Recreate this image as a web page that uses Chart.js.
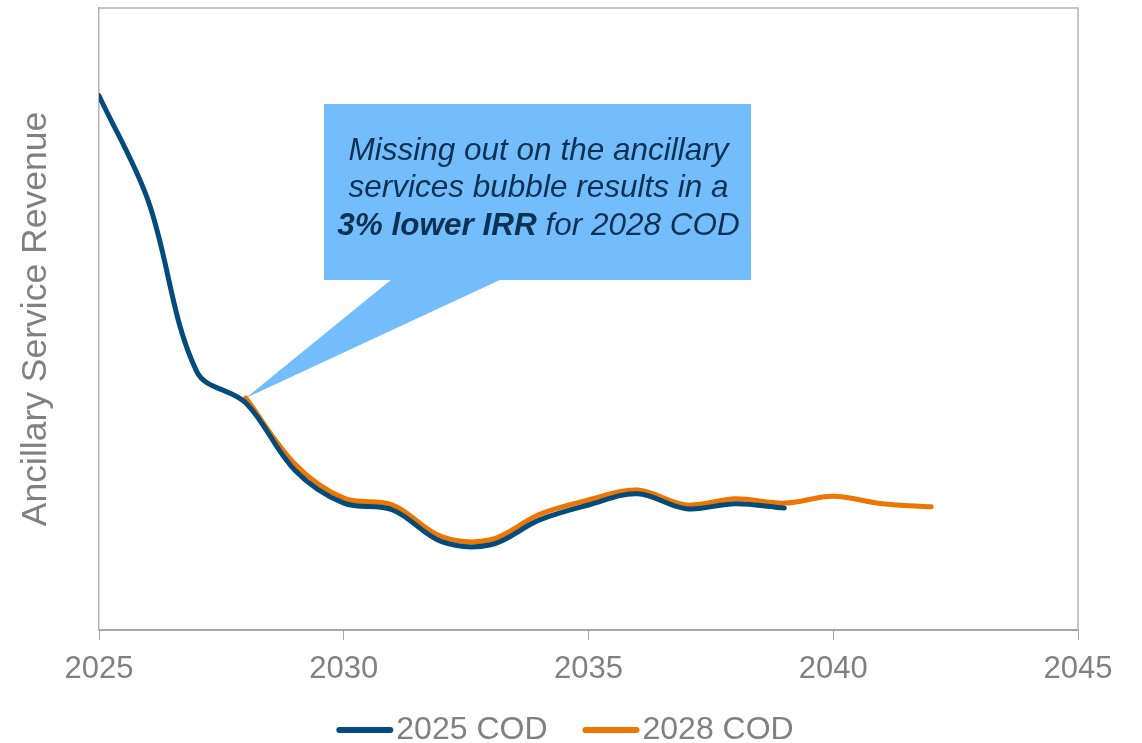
<!DOCTYPE html>
<html>
<head>
<meta charset="utf-8">
<script src="https://cdn.jsdelivr.net/npm/chart.js@4.4.1/dist/chart.umd.min.js"></script>
<style>
  html, body { margin: 0; padding: 0; background: #fff; }
  #wrap { width: 1142px; height: 743px; }
</style>
</head>
<body>
<div id="wrap"><canvas id="chartRevenue" width="1142" height="743"></canvas></div>
<script>
// years and revenue (relative, axis has no labels)
const years2025 = [2025, 2026, 2027, 2028, 2029, 2030, 2031, 2032, 2033, 2034, 2035, 2036, 2037, 2038, 2039]
const cod2025 = [85.9, 69.1, 41.5, 36.5, 25.7, 20.4, 19.3, 14.2, 13.7, 17.7, 20.1, 21.9, 19.5, 20.3, 19.6]
const years2028 = [2028, 2029, 2030, 2031, 2032, 2033, 2034, 2035, 2036, 2037, 2038, 2039, 2040, 2041, 2042]
const cod2028 = [37.3, 26.7, 21.2, 20.1, 15.0, 14.5, 18.6, 20.9, 22.5, 20.1, 21.1, 20.4, 21.5, 20.3, 19.8]
const seriesLabels = ['2025 COD', '2028 COD']
const xTicks = [2025, 2030, 2035, 2040, 2045]

const FONT = '"Liberation Sans", Arial, sans-serif'
const GRAY = '#808080'
const AXIS = '#a6a6a6'
const BLUE = '#034b7b'
const ORANGE = '#ee7600'

const toPoints = (xs, ys) => xs.map((x, i) => ({ x, y: ys[i] }))

// top/right frame, callout bubble, legend
const extras = {
  id: 'extras',
  afterDatasetsDraw(chart) {
    const { ctx, chartArea: a, scales } = chart
    ctx.save()
    ctx.strokeStyle = '#b4b4b4'
    ctx.lineWidth = 1.5
    ctx.beginPath()
    ctx.moveTo(a.left, a.top)
    ctx.lineTo(a.right, a.top)
    ctx.lineTo(a.right, a.bottom)
    ctx.stroke()

    // callout
    const tipX = scales.x.getPixelForValue(years2028[0])
    const tipY = scales.y.getPixelForValue(cod2028[0])
    const bx = 324, by = 104, bw = 427, bh = 176
    ctx.fillStyle = '#74bdfc'
    ctx.beginPath()
    ctx.moveTo(392, by + bh - 1)
    ctx.lineTo(tipX, tipY)
    ctx.lineTo(502, by + bh - 1)
    ctx.closePath()
    ctx.fill()
    ctx.fillRect(bx, by, bw, bh)

    const cx = bx + bw / 2 + 1
    const fs = 31.5
    ctx.fillStyle = '#0b3253'
    ctx.textBaseline = 'alphabetic'
    ctx.textAlign = 'center'
    ctx.font = `italic ${fs}px ${FONT}`
    ctx.fillText('Missing out on the ancillary', cx, 160)
    ctx.fillText('services bubble results in a', cx, 197)
    const boldPart = '3% lower IRR'
    const restPart = ' for 2028 COD'
    ctx.font = `italic bold ${fs}px ${FONT}`
    const w1 = ctx.measureText(boldPart).width
    ctx.font = `italic ${fs}px ${FONT}`
    const w2 = ctx.measureText(restPart).width
    const x0 = cx - (w1 + w2) / 2
    ctx.textAlign = 'left'
    ctx.font = `italic bold ${fs}px ${FONT}`
    ctx.fillText(boldPart, x0, 235)
    ctx.font = `italic ${fs}px ${FONT}`
    ctx.fillText(restPart, x0 + w1, 235)

    // legend
    ctx.font = '32px ' + FONT
    ctx.textBaseline = 'middle'
    const ly = 730
    const lineW = 57, gap = 3, itemGap = 35
    const items = chart.data.datasets.map(d => ({
      text: d.label, color: d.borderColor, w: ctx.measureText(d.label).width,
    }))
    const total = items.reduce((s, it) => s + lineW + gap + it.w, 0) + itemGap * (items.length - 1)
    let lx = (chart.width - total) / 2 - 6
    items.forEach(it => {
      ctx.strokeStyle = it.color
      ctx.lineWidth = 6
      ctx.lineCap = 'round'
      ctx.beginPath()
      ctx.moveTo(lx + 3, ly)
      ctx.lineTo(lx + lineW - 3, ly)
      ctx.stroke()
      ctx.fillStyle = GRAY
      ctx.fillText(it.text, lx + lineW + gap, ly)
      lx += lineW + gap + it.w + itemGap
    })
    ctx.restore()
  },
}

const ctx = document.getElementById('chartRevenue').getContext('2d')
new Chart(ctx, {
  type: 'line',
  data: {
    datasets: [
      {
        label: seriesLabels[0],
        data: toPoints(years2025, cod2025),
        borderColor: BLUE,
        borderWidth: 5,
      },
      {
        label: seriesLabels[1],
        data: toPoints(years2028, cod2028),
        borderColor: ORANGE,
        borderWidth: 5,
      },
    ],
  },
  options: {
    responsive: false,
    animation: false,
    layout: { padding: { left: 0, top: 8, right: 64, bottom: 53 } },
    elements: {
      line: { tension: 0.35, borderCapStyle: 'round', borderJoinStyle: 'round', fill: false },
      point: { radius: 0, hoverRadius: 0 },
    },
    plugins: {
      legend: { display: false },
      tooltip: { enabled: false },
    },
    scales: {
      x: {
        type: 'linear',
        min: 2025,
        max: 2045,
        afterBuildTicks: axis => { axis.ticks = xTicks.map(v => ({ value: v })) },
        afterFit: axis => { axis.height = 60 },
        ticks: {
          color: GRAY,
          font: { family: FONT, size: 31 },
          padding: 11,
          maxRotation: 0,
          callback: v => String(v),
        },
        grid: { display: true, drawOnChartArea: false, drawTicks: true, tickLength: 10, color: AXIS },
        border: { display: true, color: AXIS, width: 2 },
      },
      y: {
        min: 0,
        max: 100,
        afterFit: axis => { axis.width = 99 },
        ticks: { display: false },
        grid: { display: false },
        border: { display: true, color: '#b4b4b4', width: 1.5 },
        title: {
          display: true,
          text: 'Ancillary Service Revenue',
          color: GRAY,
          font: { family: FONT, size: 35.5 },
          padding: { top: 15, bottom: 0 },
        },
      },
    },
  },
  plugins: [extras],
})
</script>
</body>
</html>
